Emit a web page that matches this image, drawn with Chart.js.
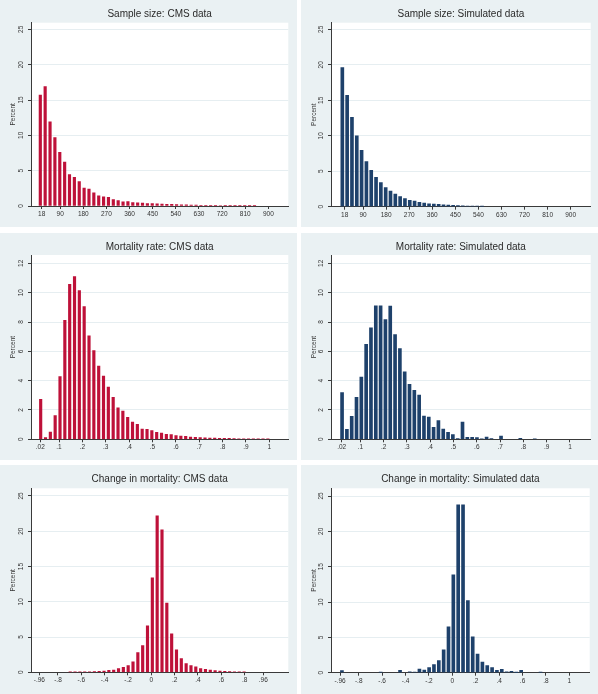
<!DOCTYPE html>
<html><head><meta charset="utf-8">
<script src="https://cdn.jsdelivr.net/npm/chart.js@4.4.1/dist/chart.umd.min.js"></script>
<style>
html,body{margin:0;padding:0;background:#fff;}
#wrap{position:relative;width:598px;height:694px;overflow:hidden;background:#fff;}
.panel{position:absolute;}
canvas{display:block;}
</style></head><body>
<div id="wrap">
 <div class="panel" style="left:0px;top:0px"><canvas id="c1" width="297" height="227"></canvas></div>
 <div class="panel" style="left:301px;top:0px"><canvas id="c2" width="297" height="227"></canvas></div>
 <div class="panel" style="left:0px;top:233px"><canvas id="c3" width="297" height="227"></canvas></div>
 <div class="panel" style="left:301px;top:233px"><canvas id="c4" width="297" height="227"></canvas></div>
 <div class="panel" style="left:0px;top:465px"><canvas id="c5" width="297" height="229"></canvas></div>
 <div class="panel" style="left:301px;top:465px"><canvas id="c6" width="297" height="229"></canvas></div>
</div>
<script>
// ---- Sample size ----
const sizeBinsCMS = [12.7, 31.6, 50.6, 69.5, 88.5, 107.4, 126.3, 145.3, 164.2, 183.2, 202.1, 221.0, 240.0, 258.9, 277.9, 296.8, 315.7, 334.7, 353.6, 372.6, 391.5, 410.4, 429.4, 448.3, 467.3, 486.2, 505.1, 524.1, 543.0, 562.0, 580.9, 599.8, 618.8, 637.7, 656.7, 675.6, 694.5, 713.5, 732.4, 751.4, 770.3, 789.2, 808.2, 827.1, 846.1];
const sizeCMS = [15.7, 16.9, 11.9, 9.7, 7.6, 6.2, 4.45, 4.05, 3.45, 2.55, 2.4, 1.85, 1.45, 1.3, 1.22, 0.92, 0.78, 0.58, 0.63, 0.48, 0.45, 0.4, 0.36, 0.33, 0.3, 0.27, 0.24, 0.22, 0.2, 0.18, 0.16, 0.14, 0.12, 0.11, 0.1, 0.09, 0.08, 0.07, 0.05, 0.03, 0.02, 0.02, 0.02, 0.02, 0.05];
const sizeBinsSim = [8.9, 27.7, 46.5, 65.3, 84.1, 102.9, 121.7, 140.5, 159.3, 178.1, 196.9, 215.7, 234.5, 253.3, 272.1, 290.9, 309.7, 328.5, 347.3, 366.1, 384.9, 403.7, 422.5, 441.3, 460.1, 478.9, 497.7, 516.5, 535.3, 554.1];
const sizeSim = [19.6, 15.7, 12.6, 10.0, 7.95, 6.35, 5.13, 4.14, 3.39, 2.68, 2.21, 1.79, 1.41, 1.13, 0.9, 0.8, 0.6, 0.52, 0.42, 0.38, 0.32, 0.27, 0.22, 0.18, 0.15, 0.12, 0.1, 0.08, 0.06, 0.04];
const sizeTicks = [18, 90, 180, 270, 360, 450, 540, 630, 720, 810, 900];
const sizeTickLabels = ['18', '90', '180', '270', '360', '450', '540', '630', '720', '810', '900'];
const sizeYTicks = [0, 5, 10, 15, 20, 25];

// ---- Mortality rate ----
const mortBins = [0.0216, 0.0423, 0.0630, 0.0836, 0.1043, 0.1250, 0.1457, 0.1664, 0.1870, 0.2077, 0.2284, 0.2491, 0.2698, 0.2904, 0.3111, 0.3318, 0.3525, 0.3732, 0.3938, 0.4145, 0.4352, 0.4559, 0.4766, 0.4972, 0.5179, 0.5386, 0.5593, 0.5800, 0.6006, 0.6213, 0.6420, 0.6627, 0.6834, 0.7040, 0.7247, 0.7454, 0.7661, 0.7868, 0.8074, 0.8281, 0.8488, 0.8695, 0.8902, 0.9108, 0.9315, 0.9522, 0.9729, 0.9936];
const mortCMS = [2.73, 0.11, 0.5, 1.61, 4.27, 8.11, 10.57, 11.09, 10.14, 9.05, 7.05, 6.05, 5.0, 4.32, 3.57, 2.86, 2.14, 1.93, 1.5, 1.18, 1.02, 0.7, 0.68, 0.59, 0.48, 0.43, 0.34, 0.33, 0.25, 0.22, 0.2, 0.15, 0.14, 0.12, 0.1, 0.09, 0.08, 0.07, 0.06, 0.06, 0.05, 0.04, 0.03, 0.03, 0.02, 0.04, 0.03, 0.04];
const mortSim = [3.18, 0.68, 1.57, 2.86, 4.25, 6.48, 7.61, 9.11, 9.11, 8.16, 9.09, 7.14, 6.18, 4.61, 3.75, 3.34, 3.02, 1.59, 1.52, 0.82, 1.27, 0.7, 0.48, 0.32, 0.05, 1.18, 0.14, 0.14, 0.11, 0.03, 0.15, 0.05, 0, 0.22, 0, 0, 0, 0.07, 0, 0, 0.03, 0, 0, 0, 0, 0, 0, 0];
const mortTicks = [0.02, 0.1, 0.2, 0.3, 0.4, 0.5, 0.6, 0.7, 0.8, 0.9, 1];
const mortTickLabels = ['.02', '.1', '.2', '.3', '.4', '.5', '.6', '.7', '.8', '.9', '1'];
const mortYTicks = [0, 2, 4, 6, 8, 10, 12];

// ---- Change in mortality ----
const changeBins = [-0.9436, -0.9022, -0.8608, -0.8194, -0.7780, -0.7366, -0.6952, -0.6538, -0.6124, -0.5710, -0.5296, -0.4882, -0.4468, -0.4054, -0.3640, -0.3226, -0.2812, -0.2398, -0.1984, -0.1570, -0.1156, -0.0742, -0.0328, 0.0086, 0.0500, 0.0914, 0.1328, 0.1742, 0.2156, 0.2570, 0.2984, 0.3398, 0.3812, 0.4226, 0.4640, 0.5054, 0.5468, 0.5882, 0.6296, 0.6710, 0.7124, 0.7538, 0.7952];
const changeCMS = [0, 0, 0, 0, 0, 0, 0.02, 0.02, 0.03, 0.04, 0.05, 0.1, 0.14, 0.19, 0.28, 0.33, 0.52, 0.71, 0.95, 1.47, 2.8, 3.8, 6.6, 13.4, 22.2, 20.2, 9.8, 5.45, 3.2, 1.94, 1.23, 0.95, 0.76, 0.52, 0.43, 0.33, 0.24, 0.19, 0.14, 0.1, 0.08, 0.05, 0.03];
const changeSim = [0.3, 0, 0, 0, 0, 0, 0, 0, 0.03, 0, 0, 0, 0.33, 0, 0.14, 0.1, 0.52, 0.38, 0.71, 1.14, 1.7, 3.22, 6.5, 13.84, 23.75, 23.75, 10.2, 5.07, 2.65, 1.52, 1.0, 0.71, 0.33, 0.47, 0.14, 0.19, 0.02, 0.33, 0, 0, 0, 0.03, 0];
const changeTicksCMS = [-0.96, -0.8, -0.6, -0.4, -0.2, 0, 0.2, 0.4, 0.6, 0.8, 0.96];
const changeTickLabelsCMS = ['-.96', '-.8', '-.6', '-.4', '-.2', '0', '.2', '.4', '.6', '.8', '.96'];
const changeTicksSim = [-0.96, -0.8, -0.6, -0.4, -0.2, 0, 0.2, 0.4, 0.6, 0.8, 1];
const changeTickLabelsSim = ['-.96', '-.8', '-.6', '-.4', '-.2', '0', '.2', '.4', '.6', '.8', '1'];
const changeYTicks = [0, 5, 10, 15, 20, 25];

const FONT = '"Liberation Sans", Arial, sans-serif';
const BG = '#EAF1F3';
const GRID = '#E6EEF1';
const RED = '#BE1139';
const NAVY = '#1E416B';
const AXIS = '#3a3a3a';

const bgPlugin = {
  id: 'panelBg',
  beforeDraw(chart) {
    const {ctx, chartArea: a} = chart;
    ctx.save();
    ctx.fillStyle = BG;
    ctx.fillRect(0, 0, chart.width, chart.height);
    ctx.fillStyle = '#ffffff';
    ctx.fillRect(a.left, a.top, a.right - a.left, a.bottom - a.top);
    ctx.restore();
  }
};

function makeHist(cfg) {
  const pts = cfg.bins.map((x, i) => ({x: x, y: cfg.values[i]})).filter(p => p.y > 0);
  new Chart(document.getElementById(cfg.id), {
    type: 'bar',
    data: {datasets: [{data: pts, backgroundColor: cfg.color, borderWidth: 0, barThickness: cfg.barW}]},
    options: {
      responsive: false, animation: false, devicePixelRatio: 1,
      layout: {padding: {left: 0, right: cfg.W - cfg.R, top: 0, bottom: 0}},
      plugins: {
        legend: {display: false}, tooltip: {enabled: false},
        title: {display: true, text: cfg.title, fullSize: false, color: '#2a2a2a',
          font: {family: FONT, size: 10, weight: 'normal'},
          padding: {top: 8.5, bottom: cfg.T - 20.5}}
      },
      scales: {
        x: {
          type: 'linear', min: cfg.xmin, max: cfg.xmax, bounds: 'data', offset: false,
          grid: {display: true, offset: false, drawOnChartArea: false, drawTicks: true, tickLength: 3, tickColor: AXIS},
          border: {display: true, color: AXIS, width: 1},
          ticks: {autoSkip: false, minRotation: 0, maxRotation: 0, padding: 1.5, color: '#333',
            font: {family: FONT, size: 6.5}, callback: (v, i) => cfg.xLabels[i]},
          afterBuildTicks: s => { s.ticks = cfg.xTicks.map(v => ({value: v})); },
          afterFit: s => { s.height = cfg.H - cfg.B; }
        },
        y: {
          type: 'linear', min: 0, max: cfg.ymax, bounds: 'data',
          grid: {display: true, color: GRID, lineWidth: 1, drawTicks: true, tickLength: 3, tickColor: AXIS},
          border: {display: true, color: AXIS, width: 1},
          ticks: {autoSkip: false, minRotation: 90, maxRotation: 90, crossAlign: 'center', padding: 3.2, color: '#333',
            font: {family: FONT, size: 6.5}, callback: (v, i) => String(cfg.yTicks[i])},
          afterBuildTicks: s => { s.ticks = cfg.yTicks.map(v => ({value: v})); },
          title: {display: true, text: 'Percent', color: '#333', font: {family: FONT, size: 6.5}, padding: {top: 9.2, bottom: 0}},
          afterFit: s => { s.width = cfg.L; }
        }
      }
    },
    plugins: [bgPlugin]
  });
}

makeHist({id: 'c1', title: 'Sample size: CMS data', bins: sizeBinsCMS, values: sizeCMS, color: RED, barW: 2.5,
  xTicks: sizeTicks, xLabels: sizeTickLabels, yTicks: sizeYTicks, xmin: -23.5, xmax: 977.7, ymax: 25.94,
  W: 297, H: 227, L: 31, R: 288.3, T: 22.7, B: 206});
makeHist({id: 'c2', title: 'Sample size: Simulated data', bins: sizeBinsSim, values: sizeSim, color: NAVY, barW: 3,
  xTicks: sizeTicks, xLabels: sizeTickLabels, yTicks: sizeYTicks, xmin: -35.3, xmax: 978.2, ymax: 25.94,
  W: 297, H: 227, L: 30, R: 289.7, T: 22.7, B: 206.7});
makeHist({id: 'c3', title: 'Mortality rate: CMS data', bins: mortBins, values: mortCMS, color: RED, barW: 2.5,
  xTicks: mortTicks, xLabels: mortTickLabels, yTicks: mortYTicks, xmin: -0.0198, xmax: 1.081, ymax: 12.57,
  W: 297, H: 227, L: 31, R: 288.3, T: 22, B: 206.3});
makeHist({id: 'c4', title: 'Mortality rate: Simulated data', bins: mortBins, values: mortSim, color: NAVY, barW: 3,
  xTicks: mortTicks, xLabels: mortTickLabels, yTicks: mortYTicks, xmin: -0.0259, xmax: 1.0889, ymax: 12.57,
  W: 297, H: 227, L: 30, R: 289.7, T: 22, B: 206.3});
makeHist({id: 'c5', title: 'Change in mortality: CMS data', bins: changeBins, values: changeCMS, color: RED, barW: 2.5,
  xTicks: changeTicksCMS, xLabels: changeTickLabelsCMS, yTicks: changeYTicks, xmin: -1.0314, xmax: 1.174, ymax: 26.09,
  W: 297, H: 229, L: 31, R: 288.3, T: 23.3, B: 207.3});
makeHist({id: 'c6', title: 'Change in mortality: Simulated data', bins: changeBins, values: changeSim, color: NAVY, barW: 3,
  xTicks: changeTicksSim, xLabels: changeTickLabelsSim, yTicks: changeYTicks, xmin: -1.037, xmax: 1.174, ymax: 26.09,
  W: 297, H: 229, L: 30, R: 288.7, T: 23.3, B: 207.7});
</script>
</body></html>
